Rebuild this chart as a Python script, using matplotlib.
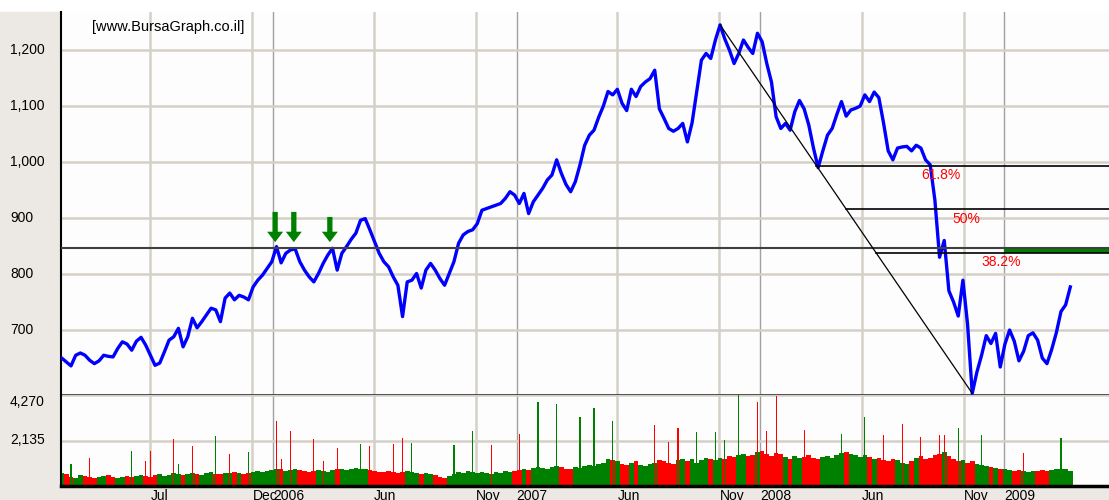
import numpy as np
import pandas as pd
import matplotlib
matplotlib.use('Agg')
import matplotlib.pyplot as plt
import matplotlib.dates as mdates
import matplotlib.transforms as mtransforms
from matplotlib.patches import Rectangle

plt.rcParams['font.family'] = ['Liberation Sans', 'DejaVu Sans']

# weekly closes (first week ends 2005-02-18)
start_date = '2005-02-18'
close = [650, 643, 636, 655, 659, 655, 646, 640, 645, 655,
         653, 652, 667, 679, 675, 664, 680, 687, 673, 655,
         637, 641, 661, 682, 688, 703, 670, 688, 721, 704,
         715, 727, 739, 736, 715, 757, 766, 754, 762, 759,
         754, 777, 789, 798, 810, 822, 849, 820, 837, 843,
         845, 822, 807, 795, 786, 801, 819, 834, 846, 807,
         837, 849, 862, 873, 896, 899, 879, 858, 837, 822,
         813, 795, 780, 724, 786, 789, 801, 775, 807, 819,
         807, 792, 780, 801, 822, 855, 870, 876, 879, 890,
         914, 917, 920, 923, 926, 935, 947, 941, 926, 944,
         908, 929, 941, 953, 968, 977, 1004, 980, 960, 947,
         965, 995, 1030, 1048, 1057, 1080, 1100, 1126, 1120, 1130,
         1105, 1092, 1130, 1117, 1135, 1143, 1149, 1164, 1095, 1078,
         1060, 1055, 1060, 1069, 1036, 1070, 1126, 1182, 1194, 1185,
         1218, 1245, 1220, 1200, 1176, 1194, 1218, 1205, 1194, 1230,
         1215, 1176, 1143, 1081, 1060, 1069, 1057, 1090, 1110, 1095,
         1066, 1025, 990, 1020, 1048, 1060, 1085, 1108, 1082, 1093,
         1096, 1100, 1120, 1108, 1125, 1115, 1070, 1020, 1004, 1025,
         1027, 1028, 1020, 1030, 1025, 1004, 995, 932, 830, 860,
         770, 750, 725, 789, 710, 587, 625, 655, 690, 676,
         694, 634, 675, 700, 680, 645, 662, 690, 695, 682,
         650, 640, 665, 695, 733, 745, 777]

volume = [600, 550, 420, 380, 500, 450, 420, 380, 400, 450,
          500, 420, 380, 400, 450, 420, 480, 520, 450, 420,
          500, 560, 480, 520, 600, 560, 520, 580, 600, 560,
          520, 600, 640, 580, 560, 620, 600, 650, 620, 580,
          600, 650, 700, 680, 720,
          760, 820, 780, 700, 740, 800, 760, 700, 680, 720,
          760, 700, 660, 760, 820, 800, 760, 780, 860, 820,
          780, 740,
          700, 660, 640, 720, 680, 600, 640, 700, 660, 600,
          560, 620, 580, 520, 420, 380, 460, 560, 640, 600,
          700, 640, 600, 680, 620, 580, 640, 600, 700, 650,
          700, 760,
          800, 760, 840, 900, 860, 800, 900, 960, 880, 820,
          780, 900, 860, 940, 1000, 960, 1050, 1100, 1250, 1200,
          1150,
          1050, 1000, 1100, 1150, 1000, 950, 1050, 1100, 1200, 1150,
          1100, 1050, 1200, 1250, 1150, 1250, 1100, 1200, 1300, 1250,
          1200, 1300, 1250, 1400, 1350, 1450,
          1500, 1400, 1450, 1600, 1650, 1500, 1400, 1550, 1500, 1350,
          1250, 1400, 1300, 1350, 1450, 1300, 1250, 1350, 1400, 1300,
          1450, 1550, 1600, 1500, 1450, 1350, 1450, 1350, 1250, 1300,
          1200, 1150, 1250, 1200,
          1100, 1050, 1150, 1300, 1400, 1250, 1300, 1450, 1500, 1600,
          1400, 1250, 1150,
          1200, 1100, 1150, 1050, 1000, 950, 900, 850, 800, 820,
          750, 700, 760, 720, 680, 700, 720, 760, 700, 740,
          780, 820, 780, 720]

# single-day volume spikes (week index, volume, 1 = up day)
spike_week = [2, 6, 15, 18, 19, 24, 25, 28, 33, 36, 40, 46, 47, 49, 54, 56, 59, 64,
              66, 71, 73, 75, 84, 88, 92, 98, 102, 106, 111, 114, 118, 127, 130, 132,
              136, 140, 142, 145, 149, 151, 153, 159, 167, 172, 176, 180, 184, 188,
              189, 192, 197, 206, 214]
spike_vol = [1030, 1320, 1650, 1180, 1650, 2210, 1030, 1880, 2350, 1500, 1600, 3060,
             1270, 2590, 2210, 1180, 1790, 1970, 1880, 1970, 2260, 2020, 1930, 2590,
             1930, 2440, 3950, 3850, 3240, 3670, 3060, 2870, 2070, 2730, 2540, 2540,
             2160, 4300, 3950, 2590, 4230, 2630, 2440, 3240, 2400, 2910, 2300, 2400,
             2400, 2730, 2400, 1550, 2260]
spike_up = [1, 0, 1, 0, 0, 0, 1, 0, 1, 0, 1, 0, 0, 0, 0, 0, 0, 1,
            0, 0, 0, 1, 1, 1, 0, 0, 1, 1, 1, 1, 1, 0, 0, 0,
            1, 1, 1, 1, 0, 0, 0, 0, 1, 1, 0, 0, 0, 0,
            0, 1, 1, 0, 1]

support_level = 846
arrow_dates = ['2006-01-04', '2006-02-01', '2006-03-27']
arrow_tops = [911, 911, 902]
fib_ratios = [0.618, 0.5, 0.382]
fib_labels = ['61.8%', '50%', '38.2%']
fib_label_dates = ['2008-08-29', '2008-10-15', '2008-11-27']
band_start = '2009-01-01'

tick_dates = ['2005-07-01', '2005-12-01', '2006-01-01', '2006-06-01', '2006-11-01',
              '2007-01-01', '2007-06-01', '2007-11-01', '2008-01-01', '2008-06-01',
              '2008-11-01', '2009-01-01']
tick_labels = ['Jul', 'Dec', '2006', 'Jun', 'Nov', '2007', 'Jun', 'Nov', '2008',
               'Jun', 'Nov', '2009']
price_ticks = [700, 800, 900, 1000, 1100, 1200]
vol_ticks = [2135, 4270]

# ---------------------------------------------------------------
dates = pd.date_range(start_date, periods=len(close), freq='W-FRI')
x = mdates.date2num(dates.to_pydatetime())
close = np.array(close, dtype=float)
volume = np.array(volume, dtype=float)
ticks_x = mdates.date2num(pd.to_datetime(tick_dates).to_pydatetime())
xmin = mdates.date2num(pd.Timestamp('2005-02-17').to_pydatetime())
xmax = mdates.date2num(pd.Timestamp('2009-06-07').to_pydatetime())

W, H = 1109, 500
fig = plt.figure(figsize=(W / 100, H / 100), dpi=100)
fig.patch.set_facecolor('white')
gray = '#ECE9E4'
fig.patches.append(Rectangle((0, 0), 61 / W, 488 / H, transform=fig.transFigure,
                             color=gray, zorder=-5))
fig.patches.append(Rectangle((0, 0), 1, 14 / H, transform=fig.transFigure,
                             color=gray, zorder=-5))

ax = fig.add_axes([61 / W, 105 / H, 1048 / W, 383 / H])
axv = fig.add_axes([61 / W, 14 / H, 1048 / W, 91 / H])

for a in (ax, axv):
    a.set_facecolor('#FDFDFD')
    a.set_xlim(xmin, xmax)
    a.spines['top'].set_visible(False)
    a.spines['right'].set_visible(False)
    a.spines['left'].set_color('black')
    a.spines['left'].set_linewidth(1.5)
    a.set_xticks(ticks_x)
    a.tick_params(length=0)
    for tx, lab in zip(ticks_x, tick_labels):
        year = lab.isdigit()
        a.axvline(tx, color='#A0A0A0' if year else '#D4D0C8',
                  lw=1.0 if year else 1.8, zorder=0)

ax.spines['bottom'].set_color('#404040')
ax.spines['bottom'].set_linewidth(2)
axv.spines['bottom'].set_color('black')
axv.spines['bottom'].set_linewidth(2.5)

# price panel
ax.set_ylim(584, 1268)
ax.set_yticks(price_ticks)
ax.tick_params(labelleft=False, labelbottom=False)
ax.yaxis.grid(True, color='#D4D0C8', lw=1.8)
ax.set_axisbelow(True)
ax.plot(x, close, color='#0000FF', lw=2.4, zorder=3)

ax.axhline(support_level, color='#404040', lw=1.5, zorder=4)

i_hi, i_lo = int(np.argmax(close)), int(np.argmin(close))
hi, lo = close[i_hi], close[i_lo]
ax.plot([x[i_hi], x[i_lo]], [hi, lo], color='black', lw=0.9, zorder=4)
fib_levels = []
for r, lab, ld in zip(fib_ratios, fib_labels, fib_label_dates):
    level = lo + r * (hi - lo)
    fib_levels.append(level)
    xc = x[i_hi] + (hi - level) / (hi - lo) * (x[i_lo] - x[i_hi])
    ax.plot([xc, xmax], [level, level], color='black', lw=1.2, zorder=4)
    lx = mdates.date2num(pd.Timestamp(ld).to_pydatetime())
    ax.annotate(lab, (lx, level), xytext=(0, -2), textcoords='offset points',
                va='top', ha='left', color='#FF0000', fontsize=10, zorder=5)

bx = mdates.date2num(pd.Timestamp(band_start).to_pydatetime())
ax.fill_between([bx, xmax], fib_levels[2], support_level, color='#008000',
                lw=0, zorder=3)

for d, top in zip(arrow_dates, arrow_tops):
    dx = mdates.date2num(pd.Timestamp(d).to_pydatetime())
    ax.annotate('', xy=(dx, support_level + 11), xytext=(dx, top),
                arrowprops=dict(arrowstyle='simple,head_width=1.15,head_length=0.75,tail_width=0.38',
                                color='#008000', lw=0, mutation_scale=10,
                                shrinkA=0, shrinkB=0), zorder=5)

ax.text((92 - 61) / 1048, 0.961, '[www.BursaGraph.co.il]',
        transform=ax.transAxes, ha='left', va='center', fontsize=10.5)

# volume panel
axv.set_ylim(0, 4270)
axv.set_yticks(vol_ticks)
axv.tick_params(labelleft=False)
axv.yaxis.grid(True, color='#D4D0C8', lw=1.8)
axv.set_axisbelow(True)
up = np.r_[True, close[1:] >= close[:-1]]
axv.bar(x, volume, width=7, color=np.where(up, '#008000', '#FF0000'), lw=0, zorder=2)
sx = x[np.array(spike_week)]
axv.bar(sx, spike_vol, width=1.8,
        color=['#008000' if u else '#FF0000' for u in spike_up], lw=0, zorder=2)

axv.set_xticklabels(tick_labels, fontsize=10)
for lab in axv.get_xticklabels():
    lab.set_ha('left')
axv.tick_params(axis='x', pad=2)

# y labels in the grey margin, left aligned
tp = mtransforms.blended_transform_factory(fig.transFigure, ax.transData)
for v in price_ticks:
    fig.text(10 / W, v, f'{v:,}', transform=tp, ha='left', va='center', fontsize=10)
tv = mtransforms.blended_transform_factory(fig.transFigure, axv.transData)
for v in vol_ticks:
    fig.text(10 / W, v, f'{v:,}', transform=tv, ha='left',
             va='top' if v == vol_ticks[-1] else 'center', fontsize=10)

fig.savefig('out.png', dpi=100, facecolor=fig.get_facecolor())
